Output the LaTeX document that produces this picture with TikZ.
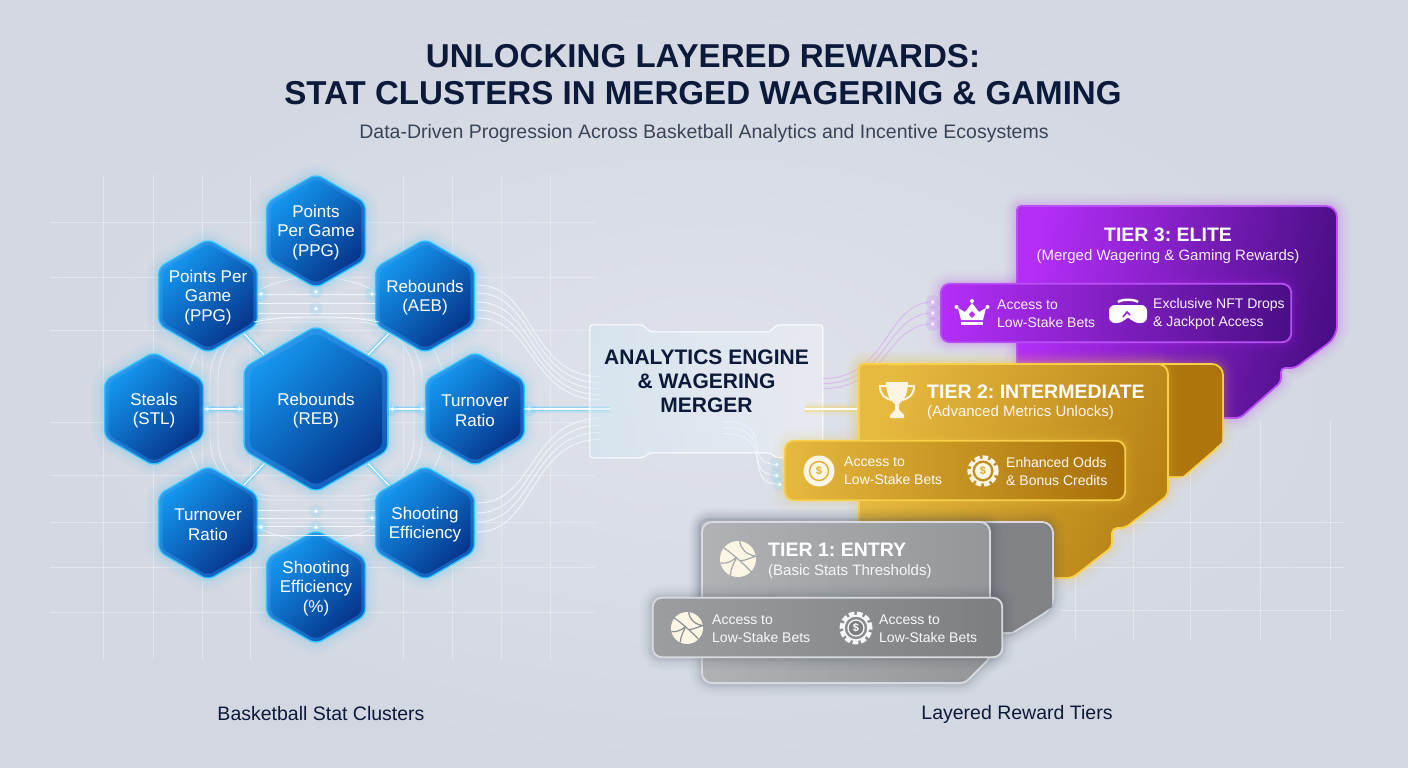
\documentclass[tikz,border=0pt]{standalone}
\usepackage{fontspec}
\setmainfont{Liberation Sans}
\usetikzlibrary{calc,shapes.geometric}
\definecolor{bgedge}{HTML}{D2D7E1}
\definecolor{bgmid}{HTML}{DFE2EA}
\definecolor{navy}{HTML}{0B1A3A}
\definecolor{slate}{HTML}{3A4458}
\definecolor{gridc}{HTML}{EEF1F6}
\definecolor{cyanglow}{HTML}{2FC4FF}
\definecolor{rimA}{HTML}{2E9BEE}
\definecolor{rimB}{HTML}{0F5CBB}
\definecolor{hexA}{HTML}{1496EE}
\definecolor{hexB}{HTML}{06358C}
\definecolor{flowc}{HTML}{F2FAFF}
\definecolor{purA}{HTML}{B42EF8}
\definecolor{purB}{HTML}{4A0E86}
\definecolor{purE}{HTML}{B850F5}
\definecolor{purL}{HTML}{DDB0F6}
\definecolor{golA}{HTML}{E6B93F}
\definecolor{golB}{HTML}{A86F08}
\definecolor{golE}{HTML}{F7CF48}
\definecolor{cream}{HTML}{FDF5E4}
\definecolor{gryA}{HTML}{B0B2B5}
\definecolor{gryB}{HTML}{7C7E81}
\definecolor{gryE}{HTML}{D8DADD}
\tikzset{
  x=1pt,y=-1pt,
  gridline/.style={gridc,line width=.9pt,opacity=.55},
  halo/.style={
    preaction={draw=#1,line width=26pt,draw opacity=.018,line join=round},
    preaction={draw=#1,line width=21pt,draw opacity=.022,line join=round},
    preaction={draw=#1,line width=16pt,draw opacity=.03,line join=round},
    preaction={draw=#1,line width=11pt,draw opacity=.045,line join=round},
    preaction={draw=#1,line width=7pt,draw opacity=.07,line join=round}},
  hexrim/.style={regular polygon,regular polygon sides=6,shape border rotate=30,inner sep=0pt,rounded corners=7pt,
    draw=cyanglow,line width=1.3pt,left color=rimA,right color=rimB,shading angle=45,halo=cyanglow},
  hexcore/.style={regular polygon,regular polygon sides=6,shape border rotate=30,inner sep=0pt,rounded corners=6pt,
    left color=hexA,right color=hexB,shading angle=45},
  hextext/.style={white,align=center,font=\fontsize{17}{19.5}\selectfont,inner sep=0pt},
  glowlink/.style={white,line width=1.2pt,line cap=round,
    preaction={draw=cyanglow,line width=7pt,draw opacity=.16},
    preaction={draw=cyanglow,line width=3.5pt,draw opacity=.35}},
  hairlink/.style={flowc,line width=.9pt,opacity=.9},
  flowline/.style={flowc,line width=.9pt,opacity=.85},
  purline/.style={purL,line width=.9pt,opacity=.85},
  softarc/.style={flowc,line width=.9pt,opacity=.7},
  panel/.style={rectangle,rounded corners=9pt,inner sep=0pt,line width=1.8pt},
  titletext/.style={navy,font=\fontsize{33.1}{37}\bfseries\selectfont,inner sep=0pt,align=center},
  sublabel/.style={slate,font=\fontsize{19.5}{23}\selectfont,inner sep=0pt},
  tiername/.style={white,font=\fontsize{19.5}{23}\bfseries\selectfont,inner sep=0pt},
  tiernote/.style={white,font=\fontsize{15}{18}\selectfont,inner sep=0pt,opacity=.92},
  perktext/.style={white,font=\fontsize{14}{18}\selectfont,inner sep=0pt,align=left,anchor=west,opacity=.95},
}
% hexagon: name, x, y, circumscribed diameter, label
\newcommand{\hexcell}[5]{%
  \node[hexrim,minimum size=#4pt] (#1) at (#2,#3) {};
  \node[hexcore,minimum size=#4pt*0.92] (#1c) at (#2,#3) {};
  \node[hextext] (#1t) at ($(#2,#3)+(0,1.5)$) {#5};
}
\newcommand{\gdot}[1]{%
  \fill[cyanglow,opacity=.10] #1 circle (7pt);
  \fill[cyanglow!40!white,opacity=.35] #1 circle (4pt);
  \fill[white] #1 circle (1.9pt);
}
\newcommand{\pdot}[1]{%
  \fill[purA,opacity=.10] #1 circle (7pt);
  \fill[purA!30!white,opacity=.45] #1 circle (4pt);
  \fill[white] #1 circle (1.9pt);
}
% basketball icon: x, y, radius, seam colour
\newcommand{\bball}[4]{%
  \begin{scope}[shift={(#1,#2)},x=#3pt,y=#3pt]
    \fill[cream] (0,0) circle (1);
    \draw[#4,line width=1.2pt]
      (-.78,.62) .. controls (-.2,.2) and (.35,-.3) .. (.72,-.7)
      (-.97,-.22) .. controls (-.5,-.3) and (-.15,.05) .. (-.08,.1)
      (-.42,-.9) .. controls (-.42,-.5) and (-.15,-.1) .. (-.08,.1)
      (.1,.99) .. controls (.15,.55) and (.45,.25) .. (.99,.15)
      (.1,-.1) .. controls (.4,-.1) and (.75,.1) .. (.99,.15);
  \end{scope}}
% poker-chip icon: name, x, y, radius, ring colour, inner fill, dollar colour
\newcommand{\chipicon}[7]{%
  \draw[#5,line width=4pt,dash pattern=on 5.5pt off 2.6pt] (#2,#3) circle (#4pt*.85);
  \draw[#5,line width=1.8pt] (#2,#3) circle (#4pt*.72);
  \fill[#6] (#2,#3) circle (#4pt*.5);
  \node[#7,inner sep=0pt,font=\fontsize{11}{11}\bfseries\selectfont] (#1) at (#2,#3) {\$};
}
\begin{document}
\frenchspacing
\begin{tikzpicture}
\useasboundingbox (0,0) rectangle (1408,768);
\shade[inner color=bgmid,outer color=bgedge] (0,0) rectangle (1408,768);

% faint graph paper behind the clusters and the tiers
\foreach \gx in {103,153,202,250,403,452,501,550}
  \draw[gridline] (\gx,175) -- (\gx,660);
\foreach \gy in {222,277,330,422,475,522,567,612}
  \draw[gridline] (50,\gy) -- (595,\gy);
\foreach \gx in {1075,1133,1190,1260,1330}
  \draw[gridline] (\gx,420) -- (\gx,640);
\foreach \gy in {522,567,610}
  \draw[gridline] (1060,\gy) -- (1345,\gy);

% engine anchor, drawn later on top of the incoming flows
\node[rectangle,minimum width=233pt,minimum height=133pt,inner sep=0pt] (eng) at (706.5,391.5) {};
\node[rectangle,minimum width=350pt,minimum height=58pt,inner sep=0pt] (tiiisub) at (1116,313) {};
\node[rectangle,minimum width=340pt,minimum height=59pt,inner sep=0pt] (tiisub) at (955,470.5) {};
\node[rectangle,minimum width=349pt,minimum height=59pt,inner sep=0pt] (tisub) at (827.5,627.5) {};

% rings around the hub, beneath the hexagons
\coordinate (hubpos) at (316,409);
\draw[softarc] (hubpos) circle (132pt);
\draw[softarc,rounded corners=62pt] (210,318) rectangle (422,500);
\draw[softarc,rounded corners=56pt] (218,322) rectangle (414,496);

% clusters
\hexcell{hub}{316}{409}{166}{Rebounds\\(REB)}
\hexcell{htop}{316}{231}{114}{Points\\Per Game\\(PPG)}
\hexcell{htl}{208}{296}{114}{Points Per\\Game\\(PPG)}
\hexcell{htr}{425}{296}{114}{Rebounds\\(AEB)}
\hexcell{hlf}{154}{409}{114}{Steals\\(STL)}
\hexcell{hrt}{475}{409}{114}{Turnover\\Ratio}
\hexcell{hbl}{208}{523}{114}{Turnover\\Ratio}
\hexcell{hbr}{425}{523}{114}{Shooting\\Efficiency}
\hexcell{hbot}{316}{587}{114}{Shooting\\Efficiency\\(\%)}

% hub spokes
\draw[glowlink,shorten >=1pt,shorten <=1pt] (hub) -- (hlf);
\draw[glowlink,shorten >=1pt,shorten <=1pt] (hub) -- (hrt);
\draw[glowlink,shorten >=1pt,shorten <=1pt] (hub) -- (htl);
\draw[glowlink,shorten >=1pt,shorten <=1pt] (hub) -- (htr);
\draw[glowlink,shorten >=1pt,shorten <=1pt] (hub) -- (hbl);
\draw[glowlink,shorten >=1pt,shorten <=1pt] (hub) -- (hbr);

% links between the upper and lower pairs
\foreach \dy in {-2,7,17}
  \draw[hairlink] ($(htl.east)+(0,\dy)$) -- ($(htr.west)+(0,\dy)$);
\draw[hairlink] ($(htl.east)+(-4,26)$) .. controls ($(htl.east)+(12,23)$) and ($(htl.east)+(30,21)$) .. ($(htl.east)+(45,21)$) -- ($(htr.west)+(-45,21)$) .. controls ($(htr.west)+(-30,21)$) and ($(htr.west)+(-12,23)$) .. ($(htr.west)+(4,26)$);
\foreach \dy in {-13,-5,3,12}
  \draw[hairlink] ($(hbl.east)+(0,\dy)$) -- ($(hbr.west)+(0,\dy)$);
\gdot{($(htl.east)+(3,-2)$)}
\gdot{($(htr.west)+(-3,-2)$)}
\gdot{($(htop.south)+(0,3)$)}
\gdot{($(htop.south)+(0,20)$)}
\gdot{($(hbl.east)+(3,4)$)}
\gdot{($(hbr.west)+(-3,-5)$)}
\gdot{($(hbot.north)+(0,-18)$)}
\gdot{($(hbot.north)+(0,-2)$)}
\gdot{($(hub.east)+(4,0)$)}
\gdot{($(hub.west)+(-4,0)$)}
\gdot{($(hrt.west)+(-3,0)$)}
\gdot{($(hlf.east)+(3,0)$)}

% flows into the engine
\foreach \da/\db in {-11/-15,-3/-9,6/-3,14/3,22/8}
  \draw[flowline] ($(htr.east)+(2,\da)$) .. controls ($(htr.east)+(60,\da)$) and ($(eng.west)+(-60,\db)$) .. ($(eng.west)+(10,\db)$);
\foreach \da/\db in {-20/27,-10/34,-1/41,9/48}
  \draw[flowline] ($(hbr.east)+(2,\da)$) .. controls ($(hbr.east)+(60,\da)$) and ($(eng.west)+(-60,\db)$) .. ($(eng.west)+(10,\db)$);
\draw[glowlink] (hrt.east) -- ($(eng.west)+(20,17.5)$);
\gdot{($(hrt.east)+(4,0)$)}
\foreach \da/\db in {-13/-11,-8/0,-3/11}
  \draw[purline] ($(eng.east)+(0,\da)$) .. controls ($(eng.east)+(65,\da)$) and ($(tiiisub.west)+(-55,\db)$) .. ($(tiiisub.west)+(-8,\db)$);
\foreach \da/\db/\dx in {30/-6/-8,36/5/-8,42/14/-5}
  \draw[flowline] ($(eng.east)+(-100,\da)$) .. controls ($(eng.east)+(-45,\da)$) and ($(tiisub.west)+(-45,\db)$) .. ($(tiisub.west)+(\dx,\db)$);
\pdot{($(tiiisub.west)+(-8,-11)$)}
\pdot{($(tiiisub.west)+(-8,0)$)}
\pdot{($(tiiisub.west)+(-8,11)$)}
\gdot{($(tiisub.west)+(-8,-6)$)}
\gdot{($(tiisub.west)+(-8,5)$)}
\gdot{($(tiisub.west)+(-5,14)$)}

% tier 3 card and perk strip
\draw[purE,line width=1.8pt,rounded corners=11pt,left color=purA,right color=purB,shading angle=80,halo=purA]
  (1017,206) -- (1337,206) -- (1337,337) [rounded corners=4pt] -- (1295,368) -- (1281,368) -- (1281,382)
  -- (1240,418) -- (1017,418) -- cycle;
\node[tiername] (tiiiname) at (1168,235) {TIER 3: ELITE};
\node[tiernote] (tiiinote) at (1168,257) {(Merged Wagering \& Gaming Rewards)};

% tier 2 stacked cards
\draw[golE,line width=1.8pt,rounded corners=11pt,left color=golA,right color=golB,halo=golE]
  (859,364) -- (1223,364) -- (1223,443) [rounded corners=5pt] -- (1183,477) -- (859,477) -- cycle;
\fill[golB!92!golA] (1169,366) -- (1212,366) -- (1222,376) -- (1222,442) -- (1183,476) -- (1169,476) -- cycle;
\draw[golE,line width=1.8pt,rounded corners=10pt,left color=golA,right color=golB!75!golA,shading angle=70,halo=golE]
  (859,364) -- (1168,364) [rounded corners=5pt] -- (1168,495) -- (1125,528) -- (1112,528) -- (1112,547)
  -- (1072,578) -- (859,578) -- cycle;
\node[tiername,anchor=west] (tiiname) at (927,392) {TIER 2: INTERMEDIATE};
\node[tiernote,anchor=west] (tiinote) at (927,413) {(Advanced Metrics Unlocks)};
% trophy
\begin{scope}[shift={(897,400)}]
  \fill[cream] (-11,-18) -- (11,-18) .. controls (11,-2) and (4,2) .. (2,4) -- (2,10) -- (7,15) -- (7,18)
    -- (-7,18) -- (-7,15) -- (-2,10) -- (-2,4) .. controls (-4,2) and (-11,-2) .. cycle;
  \draw[cream,line width=2pt] (-11,-14) -- (-17,-14) .. controls (-17,-5) and (-12,-2) .. (-6,0)
    (11,-14) -- (17,-14) .. controls (17,-5) and (12,-2) .. (6,0);
\end{scope}

% engine panel
\begin{scope}[shift={(eng.north west)}]
  \draw[white,line width=1pt,rounded corners=3pt,fill opacity=.5,left color=white!70!cyanglow!45!bgmid,right color=white!60!bgmid]
    (0,0) -- (53,0) -- (60,7) -- (180,7) -- (187,0) -- (233,0) -- (233,133) -- (187,133)
    -- (180,128) -- (60,128) -- (53,133) -- (0,133) -- cycle;
\end{scope}
\node[navy,inner sep=0pt,align=center,font=\fontsize{21}{24}\bfseries\selectfont] (engt) at (706.5,381) {ANALYTICS ENGINE\\\& WAGERING\\MERGER};
\draw[white,line width=1.6pt,preaction={draw=golE,line width=6pt,draw opacity=.35},preaction={draw=golE,line width=12pt,draw opacity=.12}]
  ($(eng.east)+(-18,17.5)$) -- ($(eng.east)+(34,17.5)$);

% perk strips of tiers 3 and 2
\draw[purE,panel,left color=purA,right color=purB,halo=purA] (tiiisub.north west) rectangle (tiiisub.south east);
\node[perktext] (pa) at (997,314) {Access to\\Low-Stake Bets};
\node[perktext] (pb) at (1153,314) {Exclusive NFT Drops\\\& Jackpot Access};
% crown
\begin{scope}[shift={(972,313)}]
  \fill[white] (-14,-5) -- (-7,-1) -- (0,-10) -- (7,-1) -- (14,-5) -- (11,7) -- (-11,7) -- cycle;
  \fill[white] (-11,9) rectangle (11,12);
  \fill[white] (-15.5,-6) circle (2pt) (0,-12) circle (2pt) (15.5,-6) circle (2pt);
  \fill[purA] (0,-2) -- (3.2,1.5) -- (0,5) -- (-3.2,1.5) -- cycle;
\end{scope}
% headset
\begin{scope}[shift={(1128,312)}]
  \fill[white,rounded corners=6pt] (-19,-7) -- (19,-7) -- (19,11) -- (5,11) -- (0,3) -- (-5,11) -- (-19,11) -- cycle;
  \draw[white,line width=2.4pt] (-10,-10) .. controls (-6,-13) and (6,-13) .. (10,-10);
  \draw[purA!70!purB,line width=1.6pt] (-5,5) -- (-1,0) -- (2,3);
\end{scope}

\draw[golE,panel,left color=golA,right color=golB,halo=golE] (tiisub.north west) rectangle (tiisub.south east);
\node[perktext] (pc) at (844,471) {Access to\\Low-Stake Bets};
\node[perktext] (pd) at (1006,471) {Enhanced Odds\\\& Bonus Credits};
\fill[cream] (819,471) circle (15.5pt);
\draw[golA!85!golB,line width=1.4pt] (819,471) circle (9.5pt);
\node[golA!85!golB,inner sep=0pt,font=\fontsize{11}{11}\bfseries\selectfont] (cd) at (819,471) {\$};
\chipicon{ce}{983}{471}{16}{cream}{cream}{golA!80!golB}

% tier 1 stacked cards
\draw[gryE,line width=1.8pt,rounded corners=11pt,left color=gryA,right color=gryB,halo=slate]
  (702,522) -- (1053,522) -- (1053,608) [rounded corners=5pt] -- (1012,633) -- (702,633) -- cycle;
\fill[gryB!92!gryA] (991,524) -- (1042,524) -- (1052,534) -- (1052,607) -- (1012,632) -- (991,632) -- cycle;
\draw[gryE,line width=1.8pt,rounded corners=10pt,left color=gryA,right color=gryB!55!gryA,halo=slate]
  (702,522) -- (990,522) [rounded corners=5pt] -- (990,658) -- (965,683) [rounded corners=10pt] -- (702,683) -- cycle;
\node[tiername,anchor=west] (tiname) at (768,550) {TIER 1: ENTRY};
\node[tiernote,anchor=west] (tinote) at (768,572) {(Basic Stats Thresholds)};
\bball{738}{559}{18}{gryA!80!gryB}
\draw[gryE,panel,left color=gryB!40!gryA,right color=gryB,halo=slate] (tisub.north west) rectangle (tisub.south east);
\node[perktext] (pe) at (712,628.5) {Access to\\Low-Stake Bets};
\node[perktext] (pf) at (879,628.5) {Access to\\Low-Stake Bets};
\bball{687}{628}{16}{gryB!70!gryA}
\chipicon{cf}{856}{628}{17}{white!90!gryA}{gryB}{white}
\draw[white!90!gryA,line width=1.3pt] (856,628) circle (8pt);

% headings and captions
\node[titletext] (title) at (703,75) {UNLOCKING LAYERED REWARDS:\\STAT CLUSTERS IN MERGED WAGERING \& GAMING};
\node[sublabel] (subtitle) at (704,133) {Data-Driven Progression Across Basketball Analytics and Incentive Ecosystems};
\node[sublabel,navy] (capl) at (321,713.5) {Basketball Stat Clusters};
\node[sublabel,navy] (capr) at (1017,714) {Layered Reward Tiers};
\end{tikzpicture}
\end{document}
